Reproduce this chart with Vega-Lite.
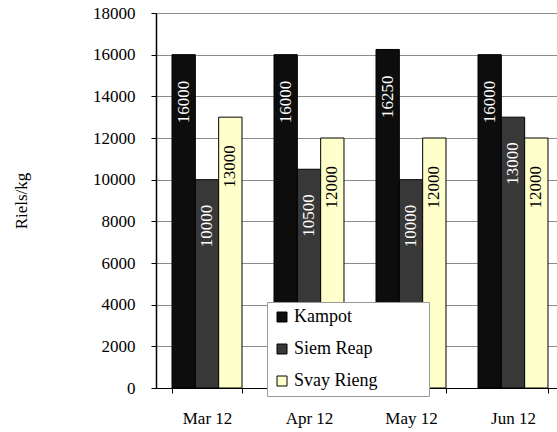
{
  "$schema": "https://vega.github.io/schema/vega-lite/v6.json",
  "width": 401,
  "height": 375,
  "autosize": {"type": "none"},
  "padding": {"left": 156, "top": 13, "right": 0, "bottom": 44},
  "background": "white",
  "config": {"view": {"stroke": null}, "font": "Times New Roman, Liberation Serif, serif"},
  "data": {"values": [
    {"month": "Mar 12", "series": "Kampot", "value": 16000},
    {"month": "Mar 12", "series": "Siem Reap", "value": 10000},
    {"month": "Mar 12", "series": "Svay Rieng", "value": 13000},
    {"month": "Apr 12", "series": "Kampot", "value": 16000},
    {"month": "Apr 12", "series": "Siem Reap", "value": 10500},
    {"month": "Apr 12", "series": "Svay Rieng", "value": 12000},
    {"month": "May 12", "series": "Kampot", "value": 16250},
    {"month": "May 12", "series": "Siem Reap", "value": 10000},
    {"month": "May 12", "series": "Svay Rieng", "value": 12000},
    {"month": "Jun 12", "series": "Kampot", "value": 16000},
    {"month": "Jun 12", "series": "Siem Reap", "value": 13000},
    {"month": "Jun 12", "series": "Svay Rieng", "value": 12000}
  ]},
  "encoding": {
    "x": {
      "field": "month", "type": "nominal",
      "sort": ["Mar 12", "Apr 12", "May 12", "Jun 12"],
      "scale": {"range": [0, 408], "paddingInner": 0.314, "paddingOuter": 0.157},
      "axis": {
        "title": null, "labelAngle": 0, "tickBand": "extent", "grid": false,
        "domainColor": "#000", "tickColor": "#000", "tickSize": 5,
        "labelFontSize": 17, "labelColor": "#000", "labelPadding": 17
      }
    },
    "xOffset": {
      "field": "series", "type": "nominal",
      "sort": ["Kampot", "Siem Reap", "Svay Rieng"],
      "scale": {"paddingInner": 0, "paddingOuter": 0}
    },
    "y": {
      "field": "value", "type": "quantitative",
      "scale": {"domain": [0, 18000], "nice": false},
      "axis": {
        "title": "Riels/kg", "titleFontSize": 17,
        "titleFontWeight": "normal", "titleColor": "#000", "titlePadding": 62,
        "values": [0, 2000, 4000, 6000, 8000, 10000, 12000, 14000, 16000, 18000],
        "format": "d", "labelFontSize": 17, "labelColor": "#000", "labelPadding": 16,
        "grid": true, "gridColor": "#8c8c8c", "gridWidth": 1,
        "domainColor": "#000", "domainWidth": 1.5, "tickColor": "#000", "tickSize": 5
      }
    }
  },
  "layer": [
    {
      "mark": {"type": "bar", "stroke": "#000", "strokeWidth": 1},
      "encoding": {
        "color": {
          "field": "series", "type": "nominal",
          "scale": {"domain": ["Kampot", "Siem Reap", "Svay Rieng"], "range": ["#0d0d0d", "#383838", "#ffffcc"]},
          "legend": {
            "orient": "none", "legendX": 111, "legendY": 289,
            "title": "\u00a0", "titleOrient": "right", "titlePadding": 46, "titleFontSize": 8,
            "fillColor": "white", "strokeColor": "#9a9a9a", "padding": 6,
            "labelFontSize": 18, "labelColor": "#000",
            "symbolType": "square", "symbolSize": 100, "symbolStrokeColor": "#000",
            "symbolStrokeWidth": 1, "rowPadding": 14, "labelOffset": 3
          }
        }
      }
    },
    {
      "transform": [{"filter": "datum.series == 'Kampot'"}],
      "mark": {"type": "text", "angle": 270, "align": "right", "baseline": "middle", "dx": -26, "fontSize": 17, "color": "white"},
      "encoding": {"text": {"field": "value", "type": "quantitative", "format": "d"}}
    },
    {
      "transform": [{"filter": "datum.series == 'Siem Reap'"}],
      "mark": {"type": "text", "angle": 270, "align": "right", "baseline": "middle", "dx": -25, "fontSize": 17, "color": "white"},
      "encoding": {"text": {"field": "value", "type": "quantitative", "format": "d"}}
    },
    {
      "transform": [{"filter": "datum.series == 'Svay Rieng'"}],
      "mark": {"type": "text", "angle": 270, "align": "right", "baseline": "middle", "dx": -28, "fontSize": 17, "color": "black"},
      "encoding": {"text": {"field": "value", "type": "quantitative", "format": "d"}}
    }
  ]
}
